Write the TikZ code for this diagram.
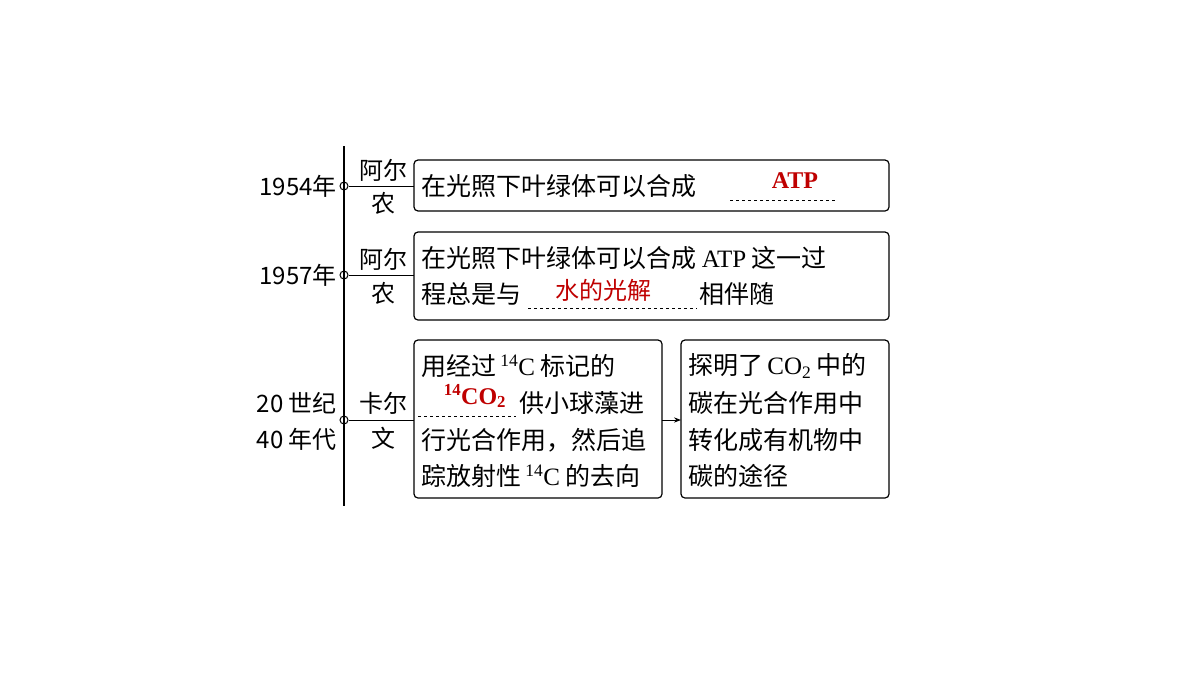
\documentclass[tikz,border=0pt]{standalone}
\usepackage{fontspec}
\setmainfont{Liberation Serif}
\newfontfamily\cjk{Noto Sans CJK SC}
\usetikzlibrary{arrows.meta,positioning}
\tikzset{
  card/.style={draw,rounded corners=4pt,line width=1.2pt},
  txt/.style={anchor=west,inner sep=0pt,font=\fontsize{25}{28}\selectfont\cjk},
  yr/.style={anchor=east,inner sep=0pt,font=\fontsize{24}{28}\selectfont\cjk},
  who/.style={inner sep=0pt,font=\fontsize{24}{28}\selectfont\cjk},
  fill/.style={inner sep=0pt,text=red!75!black,font=\fontsize{24}{28}\selectfont\bfseries},
  gap/.style={dashed,line width=0.6pt},
  dot/.style={circle,draw,fill=white,line width=1pt,minimum size=8pt,inner sep=0pt}
}
\begin{document}
\begin{tikzpicture}[x=1pt,y=-1pt]
  \useasboundingbox (0,0) rectangle (1200,675);
  % time axis
  \coordinate (top) at (344,146);
  \coordinate (bot) at (344,506);
  \draw[line width=2.4pt] (top) -- (bot);

  % boxes
  \draw[card] (414,160) rectangle (889,211);
  \draw[card] (414,232) rectangle (889,320);
  \draw[card] (414,340) rectangle (662,498);
  \draw[card] (681,340) rectangle (889,498);
  \coordinate (b1) at (414,186);
  \coordinate (b2) at (414,275);
  \coordinate (b3) at (414,420);
  \coordinate (b3r) at (662,420);
  \coordinate (b4) at (681,420);

  % ticks on the axis
  \foreach \y/\n in {186/d1,275/d2,420/d3} {
    \node[dot] (\n) at (344,\y) {};
  }
  \draw[line width=1pt] (d1) -- (b1);
  \draw[line width=1pt] (d2) -- (b2);
  \draw[line width=1pt] (d3) -- (b3);
  \draw[line width=1pt,-{Stealth[length=7pt]}] (b3r) -- (b4);

  % years
  \node[yr] (y1) at (337,186) {\addfontfeature{}1954年};
  \node[yr] (y2) at (337,275) {1957年};
  \node[yr] (y3) at (337,403) {20 世纪};
  \node[yr] (y4) at (337,439) {40 年代};

  % people
  \node[who] (p1a) at (383,170) {阿尔};
  \node[who] (p1b) at (383,203) {农};
  \node[who] (p2a) at (383,259) {阿尔};
  \node[who] (p2b) at (383,293) {农};
  \node[who] (p3a) at (383,403) {卡尔};
  \node[who] (p3b) at (383,438) {文};

  % box 1
  \node[txt] (t1) at (421,186) {在光照下叶绿体可以合成};
  \node[fill] (f1) at (795,181) {ATP};
  \draw[gap] (730,200) -- (835,200);

  % box 2
  \node[txt] (t2a) at (421,258) {在光照下叶绿体可以合成 {\rmfamily ATP} 这一过};
  \node[txt] (t2b) at (421,294) {程总是与};
  \node[fill,font=\fontsize{24}{28}\selectfont\cjk] (f2) at (603,290) {水的光解};
  \draw[gap] (528,308) -- (697,308);
  \node[txt] (t2c) at (699,294) {相伴随};

  % box 3
  \node[txt] (t3a) at (421,366) {用经过{\rmfamily\,\textsuperscript{14}C} 标记的};
  \node[fill] (f3) at (475,396) {\textsuperscript{14}CO\textsubscript{2}};
  \draw[gap] (418,416) -- (516,416);
  \node[txt] (t3b) at (519,403) {供小球藻进};
  \node[txt] (t3c) at (421,440) {行光合作用，然后追};
  \node[txt] (t3d) at (421,476) {踪放射性{\rmfamily\,\textsuperscript{14}C} 的去向};

  % box 4
  \node[txt] (t4a) at (688,366) {探明了{\rmfamily\,CO\textsubscript{2}} 中的};
  \node[txt] (t4b) at (688,403) {碳在光合作用中};
  \node[txt] (t4c) at (688,440) {转化成有机物中};
  \node[txt] (t4d) at (688,476) {碳的途径};
\end{tikzpicture}
\end{document}
